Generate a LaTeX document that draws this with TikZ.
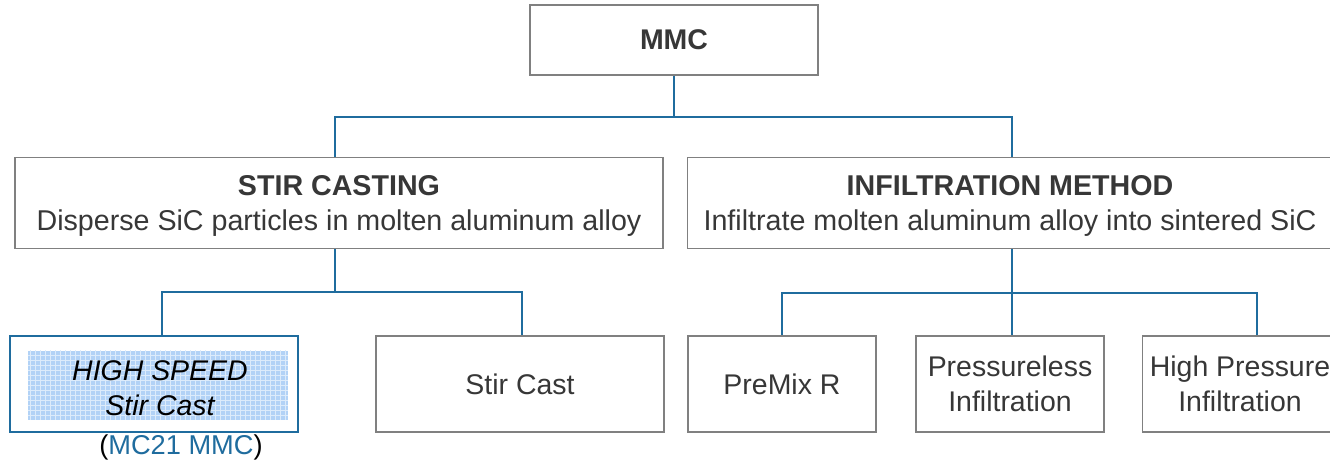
\documentclass[tikz,border=0pt]{standalone}
\usepackage{fontspec}
\setmainfont{Liberation Sans}
\usetikzlibrary{positioning}
\definecolor{linkblue}{RGB}{31,108,158}
\definecolor{boxgray}{RGB}{128,128,128}
\definecolor{txtgray}{RGB}{55,55,55}
\definecolor{hilite}{RGB}{178,210,246}

\begin{document}
\begin{tikzpicture}[
    x=0.02cm,
    y=-0.02cm,
    box/.style={draw=boxgray, line width=0.9pt, fill=white, text=txtgray, align=center, inner sep=2pt, text depth=0pt},
    lowbox/.style={box, minimum width=5.76cm, minimum height=1.92cm, font=\fontsize{16.2}{20}\selectfont},
    link/.style={draw=linkblue, line width=0.9pt}
]
\useasboundingbox (0,0) rectangle (1330,461);

\node[box, minimum width=5.76cm, minimum height=1.4cm, font=\fontsize{16.2}{20}\selectfont\bfseries] (mmc) at (674,40) {MMC};

\node[box, minimum width=12.96cm, minimum height=1.82cm, font=\fontsize{16.3}{20}\selectfont] (stir) at (339,203)
    {\textbf{STIR CASTING}\\Disperse SiC particles in molten aluminum alloy};
\node[box, minimum width=12.9cm, minimum height=1.82cm, font=\fontsize{16.3}{20}\selectfont] (infil) at (1010,203)
    {\textbf{INFILTRATION METHOD}\\Infiltrate molten aluminum alloy into sintered SiC};

\node[lowbox, draw=linkblue, line width=1.4pt] (fast) at (154,384) {};
\node[fill=hilite, minimum width=5.2cm, minimum height=1.38cm] (fastfill) at (158,385) {};
\draw[white!55!hilite, line width=0.25pt, step=0.1cm] (fastfill.south west) grid (fastfill.north east);
\node[text=black, align=center, font=\fontsize{16.2}{20}\selectfont\itshape] (fasttxt) at (160,388) {HIGH SPEED\\Stir Cast};
\node[font=\fontsize{15.5}{18}\selectfont] (mc21) at (181,447) {(\textcolor{linkblue}{MC21 MMC})};

\node[lowbox] (stircast) at (520,384) {Stir Cast};
\node[lowbox, minimum width=3.76cm] (premix) at (782,384) {PreMix R};
\node[lowbox, minimum width=3.76cm] (pless) at (1010,384) {Pressureless\\Infiltration};
\node[lowbox, minimum width=3.9cm] (hipress) at (1240,384) {High Pressure\\Infiltration};

% connectors
\coordinate (top) at (674,117);
\coordinate (stirj) at (335,292);
\coordinate (infj) at (1012,293);
\draw[link] (mmc.south) -- (top);
\draw[link] (top) -| (stir.north -| stirj);
\draw[link] (top) -| (infil.north -| infj);
\draw[link] (stir.south -| stirj) -- (stirj);
\draw[link] (stirj) -| (fast.north -| 162,0);
\draw[link] (stirj) -| (stircast.north -| 522,0);
\draw[link] (infil.south -| infj) -- (pless.north -| infj);
\draw[link] (infj) -| (premix.north);
\draw[link] (infj) -| (hipress.north -| 1257,0);
\end{tikzpicture}
\end{document}
